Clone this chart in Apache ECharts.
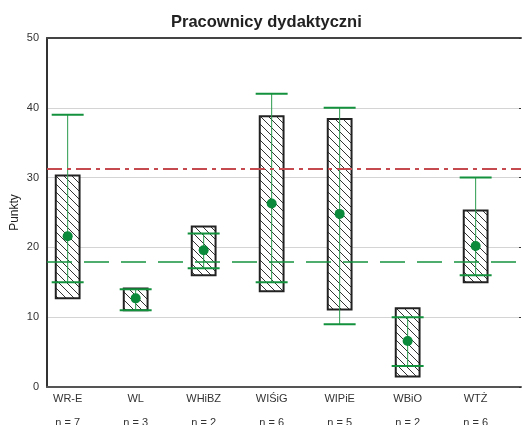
<!DOCTYPE html>
<html>
<head>
<meta charset="utf-8">
<script src="https://cdn.jsdelivr.net/npm/echarts@6/dist/echarts.min.js"></script>
<style>html,body{margin:0;padding:0;background:#fff}#c{width:522px;height:425px}</style>
</head>
<body>
<div id="c"></div>
<script>
const categories = ['WR-E','WL','WHiBZ','WIŚiG','WIPiE','WBiO','WTŻ'];
const counts = ['n = 7','n = 3','n = 2','n = 6','n = 5','n = 2','n = 6'];
const boxLow = [12.7, 11.0, 16.0, 13.7, 11.1, 1.5, 15.0];
const boxHigh = [30.3, 14.1, 23.0, 38.8, 38.4, 11.3, 25.3];
const whiskerLow = [15, 11, 17, 15, 9, 3, 16];
const whiskerHigh = [39, 14, 22, 42, 40, 10, 30];
const means = [21.6, 12.7, 19.6, 26.3, 24.8, 6.6, 20.2];
const refRed = 31.2;
const refGreen = 18.0;
const yTicks = [0, 10, 20, 30, 40, 50];

// hatch pattern
const pc = document.createElement('canvas');
pc.width = 8; pc.height = 8;
const pctx = pc.getContext('2d');
pctx.fillStyle = '#fff'; pctx.fillRect(0,0,8,8);
pctx.strokeStyle = '#333'; pctx.lineWidth = 1;
[-8,0,8].forEach(o => { pctx.beginPath(); pctx.moveTo(o,0); pctx.lineTo(o+8,8); pctx.stroke(); });
const hatch = {image: pc, repeat: 'repeat'};

const idx = categories.map((_, i) => i);
const boxData = idx.map(i => [i, boxLow[i], boxHigh[i]]);
const whiskData = idx.map(i => [i, whiskerLow[i], whiskerHigh[i]]);
const meanData = idx.map(i => [i, means[i]]);

const FONT = 'Liberation Sans, Arial, sans-serif';
const chart = echarts.init(document.getElementById('c'));
chart.setOption({
  animation: false,
  title: {text: 'Pracownicy dydaktyczni', left: 166, top: 9,
    textStyle: {fontFamily: FONT, fontSize: 16.5, fontWeight: 'bold', color: '#222'}},
  grid: {left: 47, right: 1, top: 38, bottom: 38, outerBoundsMode: 'none', containLabel: false},
  xAxis: [{
    type: 'value', min: -0.304, max: 6.667,
    axisLine: {show: true, onZero: false, lineStyle: {color: '#555', width: 2}},
    axisTick: {show: false}, splitLine: {show: false},
    axisLabel: {customValues: idx, margin: 2, fontFamily: FONT,
      formatter: v => '{a|' + categories[Math.round(v)] + '}\n{b|' + counts[Math.round(v)] + '}',
      rich: {a: {fontSize: 11, lineHeight: 20, color: '#333', fontFamily: FONT},
             b: {fontSize: 11, lineHeight: 27, color: '#333', fontFamily: FONT}}}
  }, {
    type: 'value', position: 'top', min: -0.304, max: 6.667,
    axisLine: {show: true, onZero: false, lineStyle: {color: '#444', width: 2}},
    axisTick: {show: false}, axisLabel: {show: false}, splitLine: {show: false}
  }],
  yAxis: [{
    type: 'value', min: 0, max: 50, interval: 10,
    name: 'Punkty', nameLocation: 'middle', nameGap: 26, nameRotate: 90, nameMoveOverlap: false,
    nameTextStyle: {fontFamily: FONT, fontSize: 12, color: '#222'},
    axisLine: {show: true, onZero: false, lineStyle: {color: '#333', width: 2}},
    axisTick: {show: false},
    axisLabel: {margin: 8, fontFamily: FONT, fontSize: 11, color: '#333'},
    splitLine: {show: true, lineStyle: {color: '#d4d4d4', width: 1}}
  }, {
    type: 'value', position: 'right', min: 0, max: 50, interval: 10,
    axisLine: {show: false, onZero: false}, axisLabel: {show: false}, splitLine: {show: false},
    axisTick: {show: true, inside: true, length: 2, lineStyle: {color: '#333'}}
  }],
  series: [{
    type: 'custom', name: 'box', data: boxData, z: 2,
    encode: {x: 0, y: [1, 2]},
    renderItem: (params, api) => {
      const x = api.value(0);
      const top = api.coord([x, api.value(2)]);
      const bot = api.coord([x, api.value(1)]);
      const w = api.size([1, 0])[0] * 0.35;
      return {type: 'rect', shape: {x: top[0] - w/2, y: top[1], width: w, height: bot[1] - top[1]},
        style: {fill: hatch, stroke: '#222', lineWidth: 2}};
    }
  }, {
    type: 'line', data: [], z: 3,
    markLine: {silent: true, symbol: 'none', label: {show: false},
      data: [
        {yAxis: refRed, lineStyle: {color: '#c44a4f', width: 2, type: [15, 5, 4, 5]}},
        {yAxis: refGreen, lineStyle: {color: '#16923f', width: 1.5, type: [25, 12]}}
      ]}
  }, {
    type: 'custom', name: 'whisker', data: whiskData, z: 4,
    encode: {x: 0, y: [1, 2]},
    renderItem: (params, api) => {
      const x = api.value(0);
      const hi = api.coord([x, api.value(2)]);
      const lo = api.coord([x, api.value(1)]);
      const cw = api.size([1, 0])[0] * 0.47;
      return {type: 'group', children: [
        {type: 'line', shape: {x1: hi[0], y1: hi[1], x2: lo[0], y2: lo[1]}, style: {stroke: '#2a9a4c', lineWidth: 1}},
        {type: 'line', shape: {x1: hi[0] - cw/2, y1: hi[1], x2: hi[0] + cw/2, y2: hi[1]}, style: {stroke: '#13913d', lineWidth: 2}},
        {type: 'line', shape: {x1: lo[0] - cw/2, y1: lo[1], x2: lo[0] + cw/2, y2: lo[1]}, style: {stroke: '#13913d', lineWidth: 2}}
      ]};
    }
  }, {
    type: 'scatter', data: meanData, z: 5, symbol: 'circle', symbolSize: 10,
    itemStyle: {color: '#0a8a3a', opacity: 1}
  }]
});
</script>
</body>
</html>
